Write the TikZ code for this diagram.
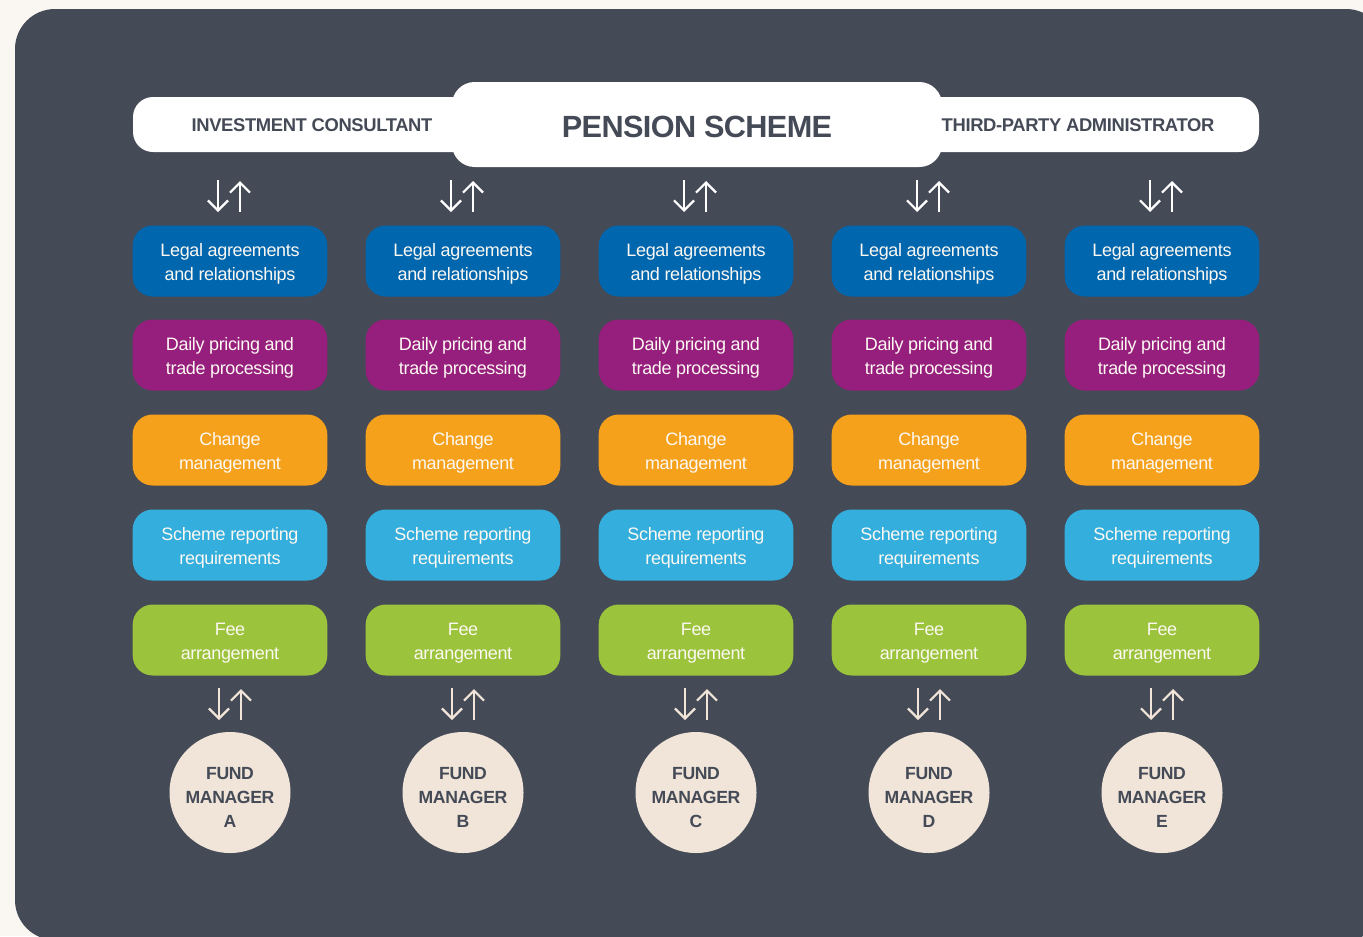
\documentclass[tikz,border=0pt]{standalone}
\usepackage{fontspec}
\setmainfont[LetterSpace=-2]{Liberation Sans}
\usetikzlibrary{arrows.meta}

\definecolor{page}{HTML}{FAF7F2}
\definecolor{panel}{HTML}{454A57}
\definecolor{cream}{HTML}{F0E5D8}
\definecolor{boxtext}{HTML}{FCF8F2}
\definecolor{legal}{HTML}{0066AE}
\definecolor{pricing}{HTML}{961E7C}
\definecolor{change}{HTML}{F5A11C}
\definecolor{report}{HTML}{33AEDD}
\definecolor{fee}{HTML}{9BC33B}

\begin{document}
\begin{tikzpicture}[x=0.75pt,y=-0.75pt]
\tikzset{
    box/.style={rectangle, rounded corners=15pt, minimum width=146pt,
        minimum height=53.25pt, inner sep=0pt, align=center, text=boxtext,
        font=\fontsize{13.5pt}{18pt}\selectfont,
        text height=33pt, text depth=3.8pt},
    fund/.style={circle, fill=cream, minimum size=90.75pt, inner sep=0pt,
        align=center, text=panel, font=\fontsize{13.2pt}{18pt}\selectfont\bfseries,
        text height=54pt, text depth=1pt},
    bar/.style={rectangle, fill=white, rounded corners=15pt,
        minimum width=844.5pt, minimum height=41.25pt},
    head/.style={rectangle, fill=white, rounded corners=17pt, text=panel,
        minimum width=367.5pt, minimum height=63.75pt,
        font=\fontsize{23pt}{28pt}\selectfont\bfseries,
        execute at begin node={\rule{0pt}{19.5pt}}},
    headlabel/.style={text=panel, inner sep=0pt,
        font=\fontsize{13.8pt}{18pt}\selectfont\bfseries},
    flow/.style={line width=1.7pt, -{Straight Barb[length=7.5pt,width=15pt]}},
    flowtop/.style={flow, white},
    flowbot/.style={flow, cream}}

\useasboundingbox (0,0) rectangle (1363,936);
\fill[page] (0,0) rectangle (1363,936);
\clip (0,0) rectangle (1363,936);
\fill[panel, rounded corners=30pt] (15,9) rectangle (1386,940);

% top band
\node[bar] (bar) at (696,124.5) {};
\node[head] (pension) at (697,124.5) {PENSION SCHEME};
\node[headlabel] (consultant) at (312,125.5) {INVESTMENT CONSULTANT};
\node[headlabel] (administrator) at (1078,125.5) {THIRD-PARTY ADMINISTRATOR};

% column A
\def\cx{230}
\def\fm{A}
\path (\cx-12,180) coordinate(T1) (\cx-12,212) coordinate(T2)
      (\cx+10,212) coordinate(T3) (\cx+10,181) coordinate(T4);
\path (\cx-11,688) coordinate(B1) (\cx-11,720) coordinate(B2)
      (\cx+11,720) coordinate(B3) (\cx+11,689) coordinate(B4);
\draw[flowtop] (T1) -- (T2);
\draw[flowtop] (T3) -- (T4);
\node[box, fill=legal] (legal\fm) at (\cx,261) {Legal agreements\\and relationships};
\node[box, fill=pricing] (pricing\fm) at (\cx,355) {Daily pricing and\\trade processing};
\node[box, fill=change] (change\fm) at (\cx,450) {Change\\management};
\node[box, fill=report] (report\fm) at (\cx,545) {Scheme reporting\\requirements};
\node[box, fill=fee] (fee\fm) at (\cx,640) {Fee\\arrangement};
\draw[flowbot] (B1) -- (B2);
\draw[flowbot] (B3) -- (B4);
\node[fund] (fund\fm) at (\cx,792.5) {FUND\\MANAGER\\\fm};

% column B
\def\cx{463}
\def\fm{B}
\path (\cx-12,180) coordinate(T1) (\cx-12,212) coordinate(T2)
      (\cx+10,212) coordinate(T3) (\cx+10,181) coordinate(T4);
\path (\cx-11,688) coordinate(B1) (\cx-11,720) coordinate(B2)
      (\cx+11,720) coordinate(B3) (\cx+11,689) coordinate(B4);
\draw[flowtop] (T1) -- (T2);
\draw[flowtop] (T3) -- (T4);
\node[box, fill=legal] (legal\fm) at (\cx,261) {Legal agreements\\and relationships};
\node[box, fill=pricing] (pricing\fm) at (\cx,355) {Daily pricing and\\trade processing};
\node[box, fill=change] (change\fm) at (\cx,450) {Change\\management};
\node[box, fill=report] (report\fm) at (\cx,545) {Scheme reporting\\requirements};
\node[box, fill=fee] (fee\fm) at (\cx,640) {Fee\\arrangement};
\draw[flowbot] (B1) -- (B2);
\draw[flowbot] (B3) -- (B4);
\node[fund] (fund\fm) at (\cx,792.5) {FUND\\MANAGER\\\fm};

% column C
\def\cx{696}
\def\fm{C}
\path (\cx-12,180) coordinate(T1) (\cx-12,212) coordinate(T2)
      (\cx+10,212) coordinate(T3) (\cx+10,181) coordinate(T4);
\path (\cx-11,688) coordinate(B1) (\cx-11,720) coordinate(B2)
      (\cx+11,720) coordinate(B3) (\cx+11,689) coordinate(B4);
\draw[flowtop] (T1) -- (T2);
\draw[flowtop] (T3) -- (T4);
\node[box, fill=legal] (legal\fm) at (\cx,261) {Legal agreements\\and relationships};
\node[box, fill=pricing] (pricing\fm) at (\cx,355) {Daily pricing and\\trade processing};
\node[box, fill=change] (change\fm) at (\cx,450) {Change\\management};
\node[box, fill=report] (report\fm) at (\cx,545) {Scheme reporting\\requirements};
\node[box, fill=fee] (fee\fm) at (\cx,640) {Fee\\arrangement};
\draw[flowbot] (B1) -- (B2);
\draw[flowbot] (B3) -- (B4);
\node[fund] (fund\fm) at (\cx,792.5) {FUND\\MANAGER\\\fm};

% column D
\def\cx{929}
\def\fm{D}
\path (\cx-12,180) coordinate(T1) (\cx-12,212) coordinate(T2)
      (\cx+10,212) coordinate(T3) (\cx+10,181) coordinate(T4);
\path (\cx-11,688) coordinate(B1) (\cx-11,720) coordinate(B2)
      (\cx+11,720) coordinate(B3) (\cx+11,689) coordinate(B4);
\draw[flowtop] (T1) -- (T2);
\draw[flowtop] (T3) -- (T4);
\node[box, fill=legal] (legal\fm) at (\cx,261) {Legal agreements\\and relationships};
\node[box, fill=pricing] (pricing\fm) at (\cx,355) {Daily pricing and\\trade processing};
\node[box, fill=change] (change\fm) at (\cx,450) {Change\\management};
\node[box, fill=report] (report\fm) at (\cx,545) {Scheme reporting\\requirements};
\node[box, fill=fee] (fee\fm) at (\cx,640) {Fee\\arrangement};
\draw[flowbot] (B1) -- (B2);
\draw[flowbot] (B3) -- (B4);
\node[fund] (fund\fm) at (\cx,792.5) {FUND\\MANAGER\\\fm};

% column E
\def\cx{1162}
\def\fm{E}
\path (\cx-12,180) coordinate(T1) (\cx-12,212) coordinate(T2)
      (\cx+10,212) coordinate(T3) (\cx+10,181) coordinate(T4);
\path (\cx-11,688) coordinate(B1) (\cx-11,720) coordinate(B2)
      (\cx+11,720) coordinate(B3) (\cx+11,689) coordinate(B4);
\draw[flowtop] (T1) -- (T2);
\draw[flowtop] (T3) -- (T4);
\node[box, fill=legal] (legal\fm) at (\cx,261) {Legal agreements\\and relationships};
\node[box, fill=pricing] (pricing\fm) at (\cx,355) {Daily pricing and\\trade processing};
\node[box, fill=change] (change\fm) at (\cx,450) {Change\\management};
\node[box, fill=report] (report\fm) at (\cx,545) {Scheme reporting\\requirements};
\node[box, fill=fee] (fee\fm) at (\cx,640) {Fee\\arrangement};
\draw[flowbot] (B1) -- (B2);
\draw[flowbot] (B3) -- (B4);
\node[fund] (fund\fm) at (\cx,792.5) {FUND\\MANAGER\\\fm};

\end{tikzpicture}
\end{document}
